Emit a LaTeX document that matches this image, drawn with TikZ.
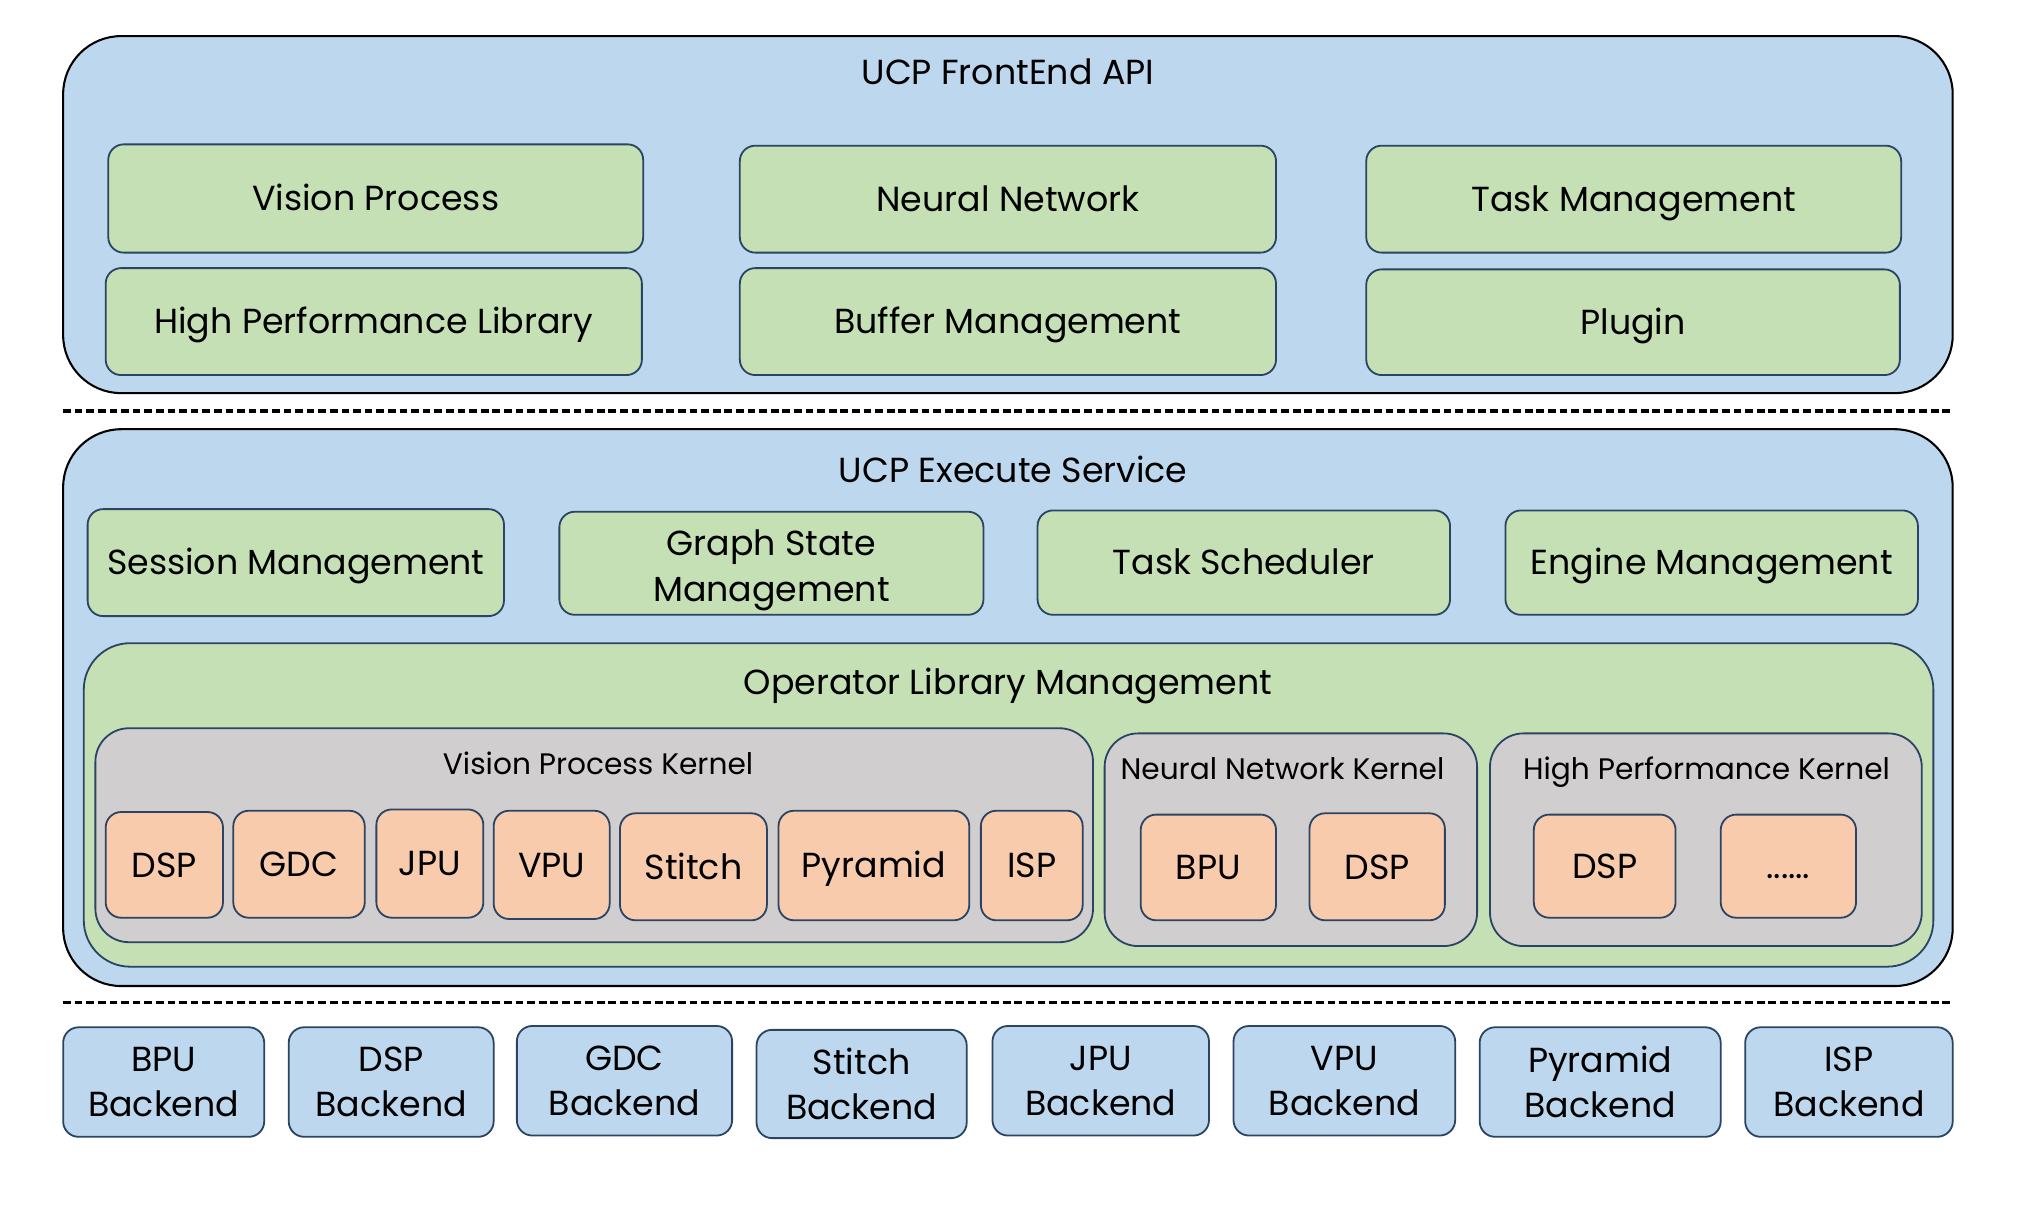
\documentclass[tikz,border=0pt]{standalone}
\usepackage{fontspec}
\setmainfont{Poppins}
\definecolor{lblue}{HTML}{BDD7EE}
\definecolor{lgreen}{HTML}{C5E0B4}
\definecolor{lgray}{HTML}{D0CECE}
\definecolor{lorange}{HTML}{F8CBAD}
\definecolor{edge}{HTML}{2B4463}
\newcommand\bx[7]{\node[#2, minimum width={(#5-#3)*1pt}, minimum height={(#6-#4)*1pt}] (#1) at ({(#3+#5)/2},{-(#4+#6)/2}) {#7};}
\begin{document}
\begin{tikzpicture}[x=1pt,y=1pt,
  every node/.style={inner sep=0pt, outer sep=0pt, font=\fontsize{27}{35}\selectfont, align=center, text height=19pt, text depth=0pt},
  two/.style={text height=, text depth=},
  outer/.style={draw=black, line width=1.6pt, fill=lblue, rounded corners=45pt},
  gbox/.style={draw=edge, line width=1.4pt, fill=lgreen, rounded corners=12pt},
  libbox/.style={draw=edge, line width=1.4pt, fill=lgreen, rounded corners=36pt},
  kbox/.style={draw=edge, line width=1.4pt, fill=lgray, rounded corners=26pt},
  obox/.style={draw=edge, line width=1.4pt, fill=lorange, rounded corners=12pt},
  bbox/.style={draw=edge, line width=1.4pt, fill=lblue, rounded corners=12pt, two},
  ktitle/.style={font=\fontsize{23}{28}\selectfont, text height=16pt},
  sep/.style={line width=2.6pt, dash pattern=on 6pt off 3pt}]
\useasboundingbox (0,0) rectangle (1568,-938);
% top layer
\bx{front}{outer}{49}{28}{1515}{305}{}
\node (fronttitle) at (782,-56) {UCP FrontEnd API};
\bx{vp}{gbox}{84}{112}{499}{196}{Vision Process}
\bx{hpl}{gbox}{82}{208}{498}{291}{High Performance Library}
\bx{nn}{gbox}{574}{113}{990}{196}{Neural Network}
\bx{bm}{gbox}{574}{208}{990}{291}{Buffer Management}
\bx{tm}{gbox}{1060}{113}{1475}{196}{Task Management}
\bx{pl}{gbox}{1060}{209}{1474}{291}{Plugin}
% separator 1
\coordinate (s1a) at (49,-319);
\coordinate (s1b) at (1515,-319);
\draw[sep] (s1a) -- (s1b);
% middle layer
\bx{exec}{outer}{49}{333}{1515}{765}{}
\node (exectitle) at (786,-365) {UCP Execute Service};
\bx{sm}{gbox}{68}{395}{391}{478}{Session Management}
\bx{gsm}{gbox,two}{434}{397}{763}{477}{\\[-4pt]Graph State\\Management}
\bx{ts}{gbox}{805}{396}{1125}{477}{Task Scheduler}
\bx{em}{gbox}{1168}{396}{1488}{477}{Engine Management}
\bx{olm}{libbox}{65}{499}{1500}{750}{}
\node (olmtitle) at (782,-529) {Operator Library Management};
\bx{vpk}{kbox}{74}{565}{848}{731}{}
\node[ktitle] (vpktitle) at (464,-593) {Vision Process Kernel};
\bx{nnk}{kbox}{857}{569}{1146}{734}{}
\node[ktitle] (nnktitle) at (995,-597) {Neural Network Kernel};
\bx{hpk}{kbox}{1156}{569}{1491}{734}{}
\node[ktitle] (hpktitle) at (1324,-597) {High Performance Kernel};
\bx{k1}{obox}{82}{630}{173}{712}{DSP}
\bx{k2}{obox}{181}{629}{283}{712}{GDC}
\bx{k3}{obox}{292}{628}{375}{712}{JPU}
\bx{k4}{obox}{383}{629}{473}{713}{VPU}
\bx{k5}{obox}{481}{631}{595}{714}{Stitch}
\bx{k6}{obox}{604}{629}{752}{714}{Pyramid}
\bx{k7}{obox}{761}{629}{840}{714}{ISP}
\bx{k8}{obox}{885}{632}{990}{714}{BPU}
\bx{k9}{obox}{1016}{631}{1121}{714}{DSP}
\bx{k10}{obox}{1190}{632}{1300}{712}{DSP}
\bx{k11}{obox}{1335}{632}{1440}{712}{......}
% separator 2
\coordinate (s2a) at (49,-778);
\coordinate (s2b) at (1515,-778);
\draw[sep] (s2a) -- (s2b);
% backends
\bx{b1}{bbox}{49}{797}{205}{882}{BPU\\Backend}
\bx{b2}{bbox}{224}{797}{383}{882}{DSP\\Backend}
\bx{b3}{bbox}{401}{796}{568}{881}{GDC\\Backend}
\bx{b4}{bbox}{587}{799}{750}{883}{Stitch\\Backend}
\bx{b5}{bbox}{770}{796}{938}{881}{JPU\\Backend}
\bx{b6}{bbox}{957}{796}{1129}{881}{VPU\\Backend}
\bx{b7}{bbox}{1148}{797}{1335}{882}{Pyramid\\Backend}
\bx{b8}{bbox}{1354}{797}{1515}{882}{ISP\\Backend}
\end{tikzpicture}
\end{document}
